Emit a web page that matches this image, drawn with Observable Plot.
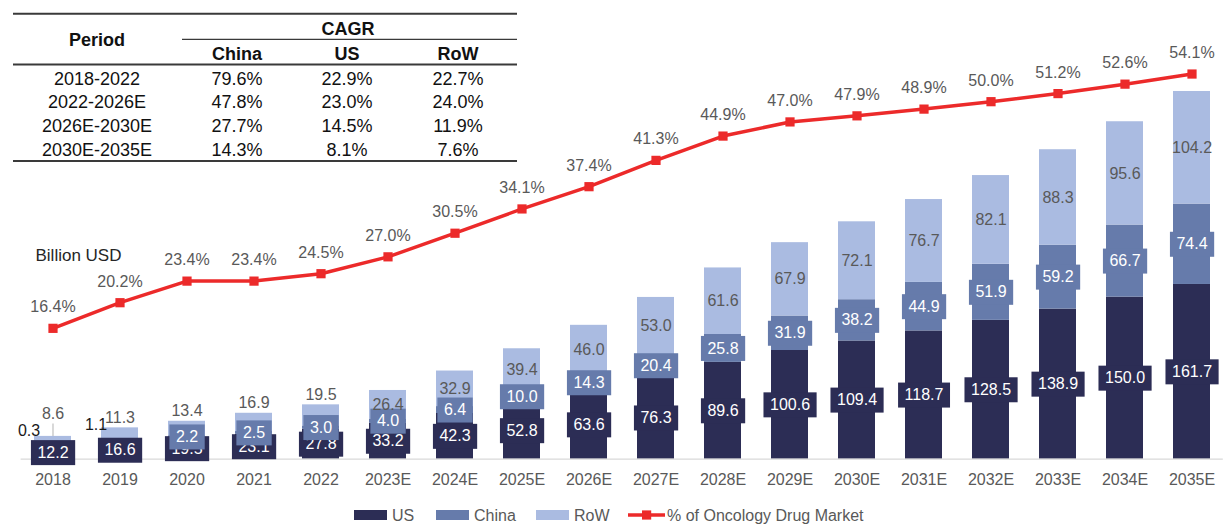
<!DOCTYPE html>
<html><head><meta charset="utf-8">
<script src="https://cdn.jsdelivr.net/npm/d3@7"></script>
<script src="https://cdn.jsdelivr.net/npm/@observablehq/plot@0.6"></script>
<style>
body{margin:0;background:#fff;font-family:"Liberation Sans",Arial,sans-serif;}
#wrap{position:relative;width:1223px;height:524px;overflow:hidden;background:#fff;}
#wrap > div{position:absolute;left:0;top:0;}
svg{display:block;}
</style></head><body>
<div id="wrap"><div id="bars"></div><div id="line"></div><div id="table"></div><div id="legend" style="top:500px"></div></div>
<script>
// ---- data ----
const years = ["2018","2019","2020","2021","2022","2023E","2024E","2025E","2026E","2027E","2028E","2029E","2030E","2031E","2032E","2033E","2034E","2035E"];
const usValues    = [12.2,16.6,19.5,23.1,27.8,33.2,42.3,52.8,63.6,76.3,89.6,100.6,109.4,118.7,128.5,138.9,150.0,161.7];
const chinaValues = [0.3,1.1,2.2,2.5,3.0,4.0,6.4,10.0,14.3,20.4,25.8,31.9,38.2,44.9,51.9,59.2,66.7,74.4];
const rowValues   = [8.6,11.3,13.4,16.9,19.5,26.4,32.9,39.4,46.0,53.0,61.6,67.9,72.1,76.7,82.1,88.3,95.6,104.2];
const pctValues   = [16.4,20.2,23.4,23.4,24.5,27.0,30.5,34.1,37.4,41.3,44.9,47.0,47.9,48.9,50.0,51.2,52.6,54.1];

const periods   = ["2018-2022","2022-2026E","2026E-2030E","2030E-2035E"];
const cagrChina = ["79.6%","47.8%","27.7%","14.3%"];
const cagrUS    = ["22.9%","23.0%","14.5%","8.1%"];
const cagrRoW   = ["22.7%","24.0%","11.9%","7.6%"];

const regions = ["US","China","RoW"];
const regionColors = ["#2c2d55","#667bab","#aabbe1"];
const lineName = "% of Oncology Drug Market";
const unitLabel = "Billion USD";
const red = "#ec2a2a";
const FONT = "'Liberation Sans', Arial, sans-serif";

// ---- tables for the library ----
const long = [];
years.forEach((y, i) => {
  long.push({year: y, region: "US", value: usValues[i]});
  long.push({year: y, region: "China", value: chinaValues[i]});
  long.push({year: y, region: "RoW", value: rowValues[i]});
});
const pctData = years.map((y, i) => ({year: y, pct: pctValues[i]}));
const totals = years.map((y, i) => ({year: y, total: usValues[i] + chinaValues[i] + rowValues[i], row: rowValues[i]}));

const W = 1223, H = 500;
const xOpts = {type: "band", domain: years, paddingInner: 0.454, paddingOuter: 0.1, axis: null};
const common = {width: W, height: H, marginLeft: 20.6, marginRight: 0.2, marginTop: 0, marginBottom: 41.3};
const fmt = v => v.toFixed(1);
const stk = {x: "year", y: "value", z: "region", order: regions};

const bars = Plot.plot({
  ...common,
  style: {fontFamily: FONT, color: "#595959", background: "transparent", overflow: "visible"},
  x: xOpts,
  y: {domain: [0, 424.5], axis: null},
  color: {domain: regions, range: regionColors},
  marks: [
    Plot.barY(long, {...stk, fill: "region"}),
    Plot.ruleY([0], {stroke: "#d9d9d9", strokeWidth: 1.3}),
    Plot.axisX({tickSize: 0, tickPadding: 14, fontSize: 16, label: null, fill: "#595959"}),
    Plot.text(long, Plot.stackY({...stk, text: d => d.region === "US" ? fmt(d.value) : null, fill: "white", fontSize: 16, className: "boxus"})),
    Plot.text(long, Plot.stackY({...stk, text: d => d.region === "China" && d.value >= 2 ? fmt(d.value) : null, fill: "white", fontSize: 16, className: "boxcn"})),
    Plot.text(long, Plot.stackY2({...stk, text: d => d.region === "China" && d.value < 2 ? fmt(d.value) : null, fill: "#1a1a1a", fontSize: 16, dx: -24, dy: -15})),
    Plot.text(long, Plot.stackY({...stk, text: d => d.region === "RoW" && d.value >= 20 ? fmt(d.value) : null, fill: "#595959", fontSize: 16})),
    Plot.text(long, Plot.stackY2({...stk, text: d => d.region === "RoW" && d.value < 20 && d.value >= 10 ? fmt(d.value) : null, fill: "#595959", fontSize: 16, dy: -10})),
    Plot.text(long, Plot.stackY2({...stk, text: d => d.region === "RoW" && d.value < 10 ? fmt(d.value) : null, fill: "#595959", fontSize: 16, dy: -23})),
    Plot.ruleX(totals.filter(d => d.row < 10), {x: "year", y1: "total", y2: d => d.total + 11.5, stroke: "#bfbfbf", strokeWidth: 1.2}),
    Plot.text([unitLabel], {frameAnchor: "top-left", dx: 14.4, dy: 248, textAnchor: "start", fontSize: 17, fill: "#262626"})
  ]
});
document.getElementById("bars").appendChild(bars);

// label boxes behind the US and China labels
[["boxus", regionColors[0]], ["boxcn", regionColors[1]]].forEach(([cls, col]) => {
  bars.querySelectorAll(`g.${cls} text`).forEach(t => {
    const b = t.getBBox();
    const r = document.createElementNS("http://www.w3.org/2000/svg", "rect");
    const w = b.width + 13, h = 25;
    r.setAttribute("x", b.x + b.width / 2 - w / 2);
    r.setAttribute("y", -h / 2);
    r.setAttribute("width", w);
    r.setAttribute("height", h);
    r.setAttribute("fill", col);
    const tr = t.getAttribute("transform");
    if (tr) r.setAttribute("transform", tr);
    else { r.setAttribute("x", +t.getAttribute("x") + b.x - (+t.getAttribute("x")) + b.width / 2 - w / 2); r.setAttribute("y", (+t.getAttribute("y")) - h / 2); }
    t.parentNode.insertBefore(r, t);
  });
});

const line = Plot.plot({
  ...common,
  style: {fontFamily: FONT, background: "transparent", overflow: "visible"},
  x: xOpts,
  y: {domain: [-3.0, 65.0], axis: null},
  marks: [
    Plot.line(pctData, {x: "year", y: "pct", stroke: red, strokeWidth: 3.5}),
    Plot.dot(pctData, {x: "year", y: "pct", symbol: "square", r: 5.2, fill: red}),
    Plot.text(pctData, {x: "year", y: "pct", text: d => d.pct.toFixed(1) + "%", dy: -21, fontSize: 16, fill: "#595959"})
  ]
});
document.getElementById("line").appendChild(line);

// ---- CAGR table ----
const tsvg = d3.create("svg").attr("width", 540).attr("height", 175).style("font-family", FONT).style("overflow", "visible");
const lineCol = "#3a3a3a";
[[13, 13.8, 517, 2], [182, 39.3, 517, 1.3], [13, 64.5, 517, 1.8], [13, 161, 517, 2.2]].forEach(([x1, y, x2, sw]) => {
  tsvg.append("line").attr("x1", x1).attr("x2", x2).attr("y1", y).attr("y2", y).attr("stroke", lineCol).attr("stroke-width", sw);
});
const colX = [97, 237, 347, 458];
const fs = 18, base = c => c + 0.36 * fs;
const txt = (s, x, cy, bold) => tsvg.append("text").attr("x", x).attr("y", base(cy)).attr("text-anchor", "middle")
  .attr("font-size", fs).attr("font-weight", bold ? "bold" : "normal").attr("fill", "#111").text(s);
txt("Period", colX[0], 40, true);
txt("CAGR", 348, 28.8, true);
txt("China", colX[1], 53.3, true);
txt("US", colX[2], 53.3, true);
txt("RoW", colX[3], 53.3, true);
const rowY = [78.5, 102, 126, 150];
periods.forEach((p, i) => {
  txt(p, colX[0], rowY[i]);
  txt(cagrChina[i], colX[1], rowY[i]);
  txt(cagrUS[i], colX[2], rowY[i]);
  txt(cagrRoW[i], colX[3], rowY[i]);
});
document.getElementById("table").appendChild(tsvg.node());

// ---- legend ----
const lsvg = d3.create("svg").attr("width", W).attr("height", 24).style("font-family", FONT);
const cy = 15;
const legendX = [354, 436, 536];
regions.forEach((r, i) => {
  lsvg.append("rect").attr("x", legendX[i]).attr("y", cy - 5).attr("width", 33).attr("height", 10).attr("fill", regionColors[i]);
  lsvg.append("text").attr("x", legendX[i] + 38).attr("y", cy + 5.8).attr("font-size", 16).attr("fill", "#595959").text(r);
});
lsvg.append("line").attr("x1", 628).attr("x2", 665).attr("y1", cy).attr("y2", cy).attr("stroke", red).attr("stroke-width", 3.5);
lsvg.append("rect").attr("x", 642).attr("y", cy - 4.6).attr("width", 9.2).attr("height", 9.2).attr("fill", red);
lsvg.append("text").attr("x", 667).attr("y", cy + 5.8).attr("font-size", 16).attr("fill", "#595959").text(lineName);
document.getElementById("legend").appendChild(lsvg.node());
</script>
</body></html>
